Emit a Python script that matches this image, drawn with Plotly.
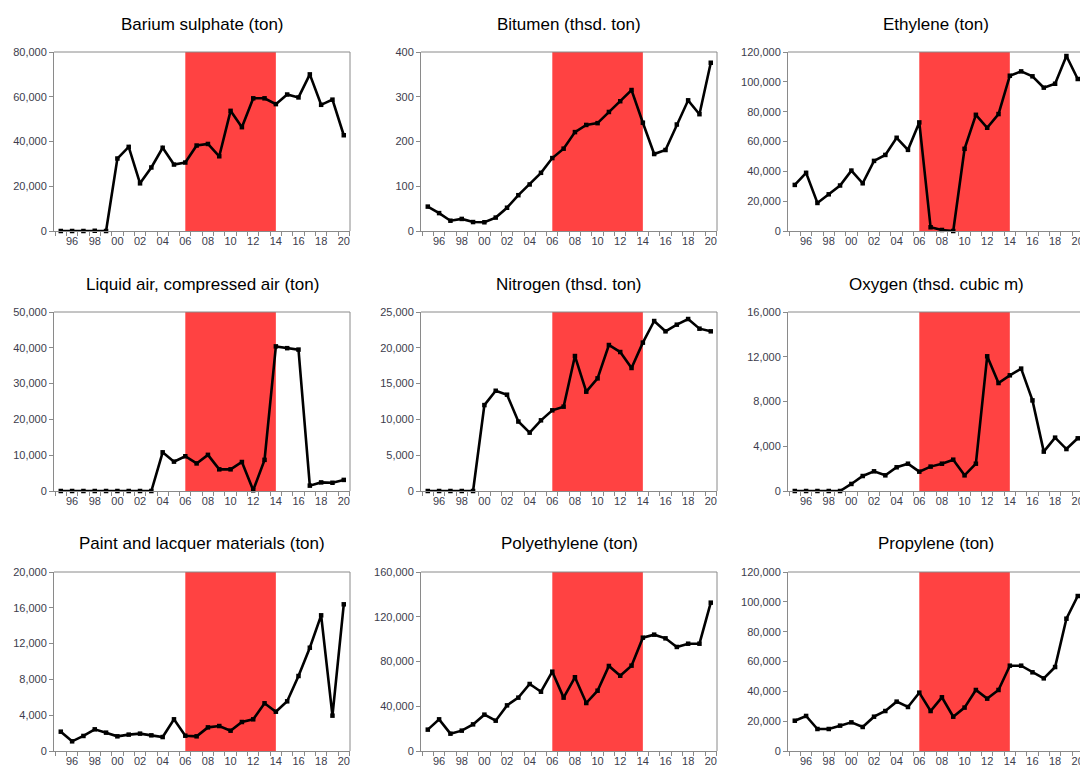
import plotly.graph_objects as go

# Annual observations 1995-2020
years = list(range(1995, 2021))

barium_sulphate = [0, 0, 0, 100, 0, 32400, 37600, 21300, 28400, 37200, 29700, 30600, 38200,
                   38900, 33400, 53700, 46400, 59300, 59300, 56700, 61000, 59700, 70000,
                   56400, 58700, 42800]
bitumen = [54.5, 40, 23, 27, 20, 19.5, 30, 52, 80, 104, 130, 163, 184, 221, 237, 241, 266,
           290, 315, 242, 172, 181, 238, 292, 261, 376]
ethylene = [30900, 39000, 18800, 24600, 30500, 40500, 32000, 47000, 51000, 62500, 54400,
            72800, 2500, 700, 0, 55100, 77900, 69200, 78400, 104100, 107000, 103700, 96100,
            98700, 117300, 101900]
liquid_air = [0, 0, 0, 0, 0, 0, 0, 0, 0, 10800, 8200, 9700, 7700, 10100, 6050, 6050, 8100,
              200, 8700, 40400, 39900, 39500, 1500, 2400, 2300, 3100]
nitrogen = [0, 0, 0, 0, 0, 12000, 14000, 13450, 9700, 8150, 9870, 11270, 11780, 18850, 13870,
            15730, 20390, 19410, 17180, 20720, 23740, 22300, 23230, 24020, 22670, 22300]
oxygen = [0, 0, 0, 0, 0, 630, 1340, 1760, 1400, 2120, 2440, 1730, 2180, 2440, 2800, 1400,
          2440, 12040, 9650, 10340, 10940, 8100, 3520, 4770, 3750, 4710]
paint_lacquer = [2160, 1080, 1680, 2420, 2050, 1640, 1830, 1940, 1750, 1560, 3540, 1710, 1640,
                 2640, 2790, 2270, 3240, 3540, 5330, 4390, 5550, 8380, 11540, 15160, 3950, 16390]
polyethylene = [19100, 28300, 15500, 18200, 23800, 32500, 27100, 40800, 47700, 59900, 53000,
                70900, 47700, 65900, 42900, 53900, 76000, 67300, 76300, 101300, 104000, 100700,
                93000, 95900, 95900, 132600]
propylene = [20300, 23500, 14750, 14750, 17000, 19200, 16100, 23000, 26800, 33100, 29500, 39100,
             26800, 36000, 23000, 29100, 40900, 35100, 40900, 57200, 57200, 52750, 48700, 56300,
             88700, 103900]

titles = ["Barium sulphate (ton)", "Bitumen (thsd. ton)", "Ethylene (ton)",
          "Liquid air, compressed air (ton)", "Nitrogen (thsd. ton)", "Oxygen (thsd. cubic m)",
          "Paint and lacquer materials (ton)", "Polyethylene (ton)", "Propylene (ton)"]
series = [barium_sulphate, bitumen, ethylene, liquid_air, nitrogen, oxygen,
          paint_lacquer, polyethylene, propylene]
y_max = [80000, 400, 120000, 50000, 25000, 16000, 20000, 160000, 120000]
y_step = [20000, 100, 20000, 10000, 5000, 4000, 4000, 40000, 20000]

shade_start, shade_end = 2006, 2014
label_years = list(range(1996, 2021, 2))
label_text = [f"{y % 100:02d}" for y in label_years]

W, H = 1080, 766
# panel pixel boxes; the right-hand column runs off the page edge
col_px = [(54, 350), (421, 717), (788, 1080)]
x_ranges = [(1994.4, 2020.55), (1994.4, 2020.55), (1994.4, 2020.2)]
row_px = [(52, 231), (312, 491), (572, 751)]
title_y_px = [24, 284, 543]

FONT = "Liberation Sans, Arial, sans-serif"
FRAME = "#8a8a8a"
TICK_COLOR = "#3c3c4c"

fig = go.Figure()
layout = dict(
    width=W, height=H,
    margin=dict(l=0, r=0, t=0, b=0),
    paper_bgcolor="white", plot_bgcolor="white",
    showlegend=False,
    font=dict(family=FONT, size=11, color=TICK_COLOR),
)
shapes, annotations = [], []

for i, (name, vals) in enumerate(zip(titles, series)):
    r, c = divmod(i, 3)
    n = i + 1
    xa = "x" if n == 1 else f"x{n}"
    ya = "y" if n == 1 else f"y{n}"
    x0, x1 = col_px[c]
    top, bot = row_px[r]
    clipped = c == 2

    fig.add_trace(go.Scatter(
        x=years, y=vals, xaxis=xa, yaxis=ya, mode="lines+markers",
        line=dict(color="black", width=2.6),
        marker=dict(symbol="square", size=4.5, color="black"),
        cliponaxis=False, hoverinfo="skip",
    ))

    layout["xaxis" if n == 1 else f"xaxis{n}"] = dict(
        domain=[x0 / W, x1 / W], anchor=ya, automargin=False,
        range=list(x_ranges[c]),
        tickmode="array", tickvals=label_years, ticktext=label_text, ticks="",
        ticklabeloverflow="allow",
        minor=dict(tickmode="array", tickvals=[y + 0.5 for y in range(1994, 2021)],
                   ticks="outside", ticklen=4, tickcolor=FRAME),
        showgrid=False, zeroline=False,
        showline=True, mirror=False, linecolor=FRAME, linewidth=1,
        tickfont=dict(family=FONT, size=11, color=TICK_COLOR),
        fixedrange=True,
    )
    layout["yaxis" if n == 1 else f"yaxis{n}"] = dict(
        domain=[1 - bot / H, 1 - top / H], anchor=xa, automargin=False,
        range=[0, y_max[i]], tick0=0, dtick=y_step[i], tickformat=",d",
        ticks="outside", ticklen=4, tickcolor=FRAME, ticklabeloverflow="allow",
        showgrid=False, zeroline=False,
        showline=True, mirror=False, linecolor=FRAME, linewidth=1,
        tickfont=dict(family=FONT, size=11, color=TICK_COLOR),
        fixedrange=True,
    )

    shapes.append(dict(
        type="rect", xref=f"{xa} domain", yref=f"{ya} domain",
        x0=(shade_start - x_ranges[c][0]) / (x_ranges[c][1] - x_ranges[c][0]),
        x1=(shade_end - x_ranges[c][0]) / (x_ranges[c][1] - x_ranges[c][0]),
        y0=0, y1=1,
        fillcolor="#ff4242", line=dict(width=0), layer="below",
    ))
    # top border across the panel
    shapes.append(dict(
        type="line", xref=f"{xa} domain", yref=f"{ya} domain",
        x0=0, x1=1, y0=1, y1=1, line=dict(color=FRAME, width=1), layer="above",
    ))
    if not clipped:
        # right border
        shapes.append(dict(
            type="line", xref=f"{xa} domain", yref=f"{ya} domain",
            x0=1, x1=1, y0=0, y1=1, line=dict(color=FRAME, width=1), layer="above",
        ))
    annotations.append(dict(
        text=name, xref="paper", yref="paper",
        x=(col_px[c][0] + col_px[c][0] + 296) / 2 / W, y=1 - title_y_px[r] / H,
        xanchor="center", yanchor="middle", showarrow=False,
        font=dict(family=FONT, size=17, color="black"),
    ))

layout["shapes"] = shapes
layout["annotations"] = annotations
fig.update_layout(**layout)

fig.write_html("out.html", config={"displayModeBar": False, "staticPlot": True})
